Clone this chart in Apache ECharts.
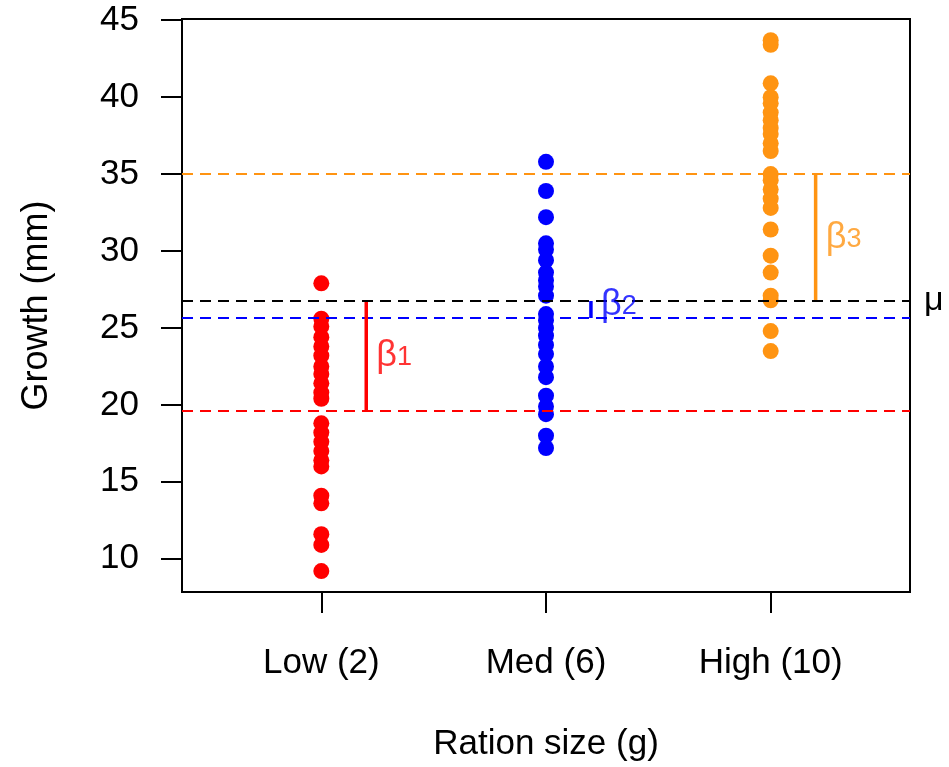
<!DOCTYPE html>
<html>
<head>
<meta charset="utf-8">
<script src="https://cdn.jsdelivr.net/npm/echarts@6/dist/echarts.min.js"></script>
<style>html,body{margin:0;padding:0;background:#fff}#c{width:949px;height:767px}</style>
</head>
<body>
<div id="c"></div>
<script>
// ---- data ----
const categories = ['Low (2)', 'Med (6)', 'High (10)'];
const lowGrowth  = [27.9, 25.6, 25.1, 24.4, 23.8, 23.2, 22.5, 22.0, 21.4, 20.8, 20.4, 18.8, 18.2, 17.6, 17.0, 16.4, 16.0, 14.1, 13.6, 11.6, 10.9, 9.2];
const medGrowth  = [35.8, 33.9, 32.2, 30.5, 30.1, 29.4, 28.6, 28.1, 27.7, 27.1, 25.9, 25.5, 25.0, 24.5, 23.9, 23.3, 22.5, 21.8, 20.6, 19.9, 19.4, 18.0, 17.2];
const highGrowth = [43.7, 43.4, 40.9, 40.0, 39.6, 39.0, 38.5, 38.0, 37.6, 37.0, 36.5, 35.0, 34.6, 34.0, 33.4, 32.8, 31.4, 29.7, 28.6, 27.1, 26.8, 24.8, 23.5];
const groupMeans = [19.6, 25.65, 35.0];
const grandMean = 26.75;
const betaLabelY = [23.3, 26.6, 31.0];
const yTicks = [10, 15, 20, 25, 30, 35, 40, 45];
const xTicks = [1, 2, 3];

const colors = ['#FF0000', '#0000FF', '#FF9412'];
const groups = [lowGrowth, medGrowth, highGrowth];
const FONT = 'Liberation Sans, Arial, sans-serif';
const segOffset = 0.2;
const labelOffset = 0.045;

const series = [];
groups.forEach((g, i) => {
  series.push({
    type: 'scatter', symbol: 'circle', symbolSize: 16, z: 2,
    itemStyle: { color: colors[i], opacity: 1 },
    data: g.map(v => [xTicks[i], v]),
    markLine: {
      silent: true, symbol: 'none', z: 3,
      lineStyle: { color: colors[i], width: 2, type: [11, 7] },
      label: { show: false },
      data: [{ yAxis: groupMeans[i] }]
    }
  });
});
// grand mean line with mu label
series.push({
  type: 'line', data: [], z: 3,
  markLine: {
    silent: true, symbol: 'none',
    lineStyle: { color: '#000', width: 2, type: [11, 7] },
    label: { show: true, position: 'end', distance: 14, formatter: 'μ', color: '#000', fontSize: 34, fontFamily: FONT },
    data: [{ yAxis: grandMean }]
  }
});
// beta segments
groups.forEach((g, i) => {
  series.push({
    type: 'line', z: 4, symbol: 'none',
    lineStyle: { color: colors[i], width: 3.5 },
    data: [[xTicks[i] + segOffset, grandMean], [xTicks[i] + segOffset, groupMeans[i]]]
  });
  series.push({
    type: 'scatter', z: 5, symbolSize: 0, clip: false,
    data: [[xTicks[i] + segOffset + labelOffset, betaLabelY[i]]],
    label: {
      show: true, position: 'right', distance: 0,
      formatter: '{b|β}{s|' + (i + 1) + '}',
      rich: {
        b: { fontSize: 36, color: colors[i], fontFamily: FONT, verticalAlign: 'bottom', lineHeight: 40 },
        s: { fontSize: 27, color: colors[i], fontFamily: FONT, verticalAlign: 'bottom', lineHeight: 27, padding: [0, 0, 3, 0] }
      }
    }
  });
});

const chart = echarts.init(document.getElementById('c'), null, { renderer: 'canvas' });
chart.setOption({
  animation: false,
  backgroundColor: '#fff',
  grid: { left: 182, right: 39, top: 19, bottom: 174, show: true, borderColor: '#000', borderWidth: 2, backgroundColor: 'transparent' },
  xAxis: {
    type: 'value', min: 0.38, max: 3.62,
    name: 'Ration size (g)', nameLocation: 'middle', nameGap: 135,
    nameTextStyle: { fontSize: 35, color: '#000', fontFamily: FONT },
    axisLine: { show: true, lineStyle: { color: '#000', width: 2 } },
    axisTick: { show: true, length: 21, lineStyle: { color: '#000', width: 2 }, customValues: xTicks },
    axisLabel: { fontSize: 35, color: '#000', fontFamily: FONT, margin: 54, customValues: xTicks,
      formatter: v => categories[xTicks.indexOf(Math.round(v))] || '' },
    splitLine: { show: false }
  },
  yAxis: {
    type: 'value', min: 7.84, max: 45.08,
    name: 'Growth (mm)', nameLocation: 'middle', nameGap: 127, nameRotate: 90,
    nameTextStyle: { fontSize: 36, color: '#000', fontFamily: FONT },
    axisLine: { show: true, lineStyle: { color: '#000', width: 2 } },
    axisTick: { show: true, length: 21, lineStyle: { color: '#000', width: 2 }, customValues: yTicks },
    axisLabel: { fontSize: 35, color: '#000', fontFamily: FONT, margin: 43, customValues: yTicks },
    splitLine: { show: false }
  },
  series: series
});
</script>
</body>
</html>
